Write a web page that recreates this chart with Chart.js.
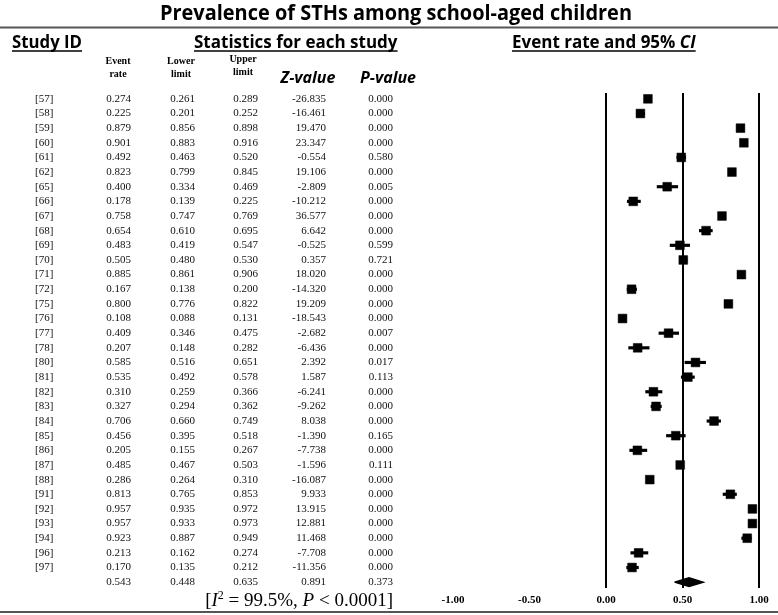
<!DOCTYPE html>
<html>
<head>
<meta charset="utf-8">
<script src="https://cdn.jsdelivr.net/npm/chart.js@4.4.1/dist/chart.umd.min.js"></script>
<style>
  html, body { margin: 0; padding: 0; background: #fff; }
  canvas { display: block; }
</style>
</head>
<body>
<canvas id="forest" width="778" height="615"></canvas>
<script>
// --- Data ---
const studyIds = ["[57]", "[58]", "[59]", "[60]", "[61]", "[62]", "[65]", "[66]", "[67]", "[68]", "[69]",
  "[70]", "[71]", "[72]", "[75]", "[76]", "[77]", "[78]", "[80]", "[81]", "[82]", "[83]", "[84]", "[85]",
  "[86]", "[87]", "[88]", "[91]", "[92]", "[93]", "[94]", "[96]", "[97]"];
const eventRate = [0.274, 0.225, 0.879, 0.901, 0.492, 0.823, 0.400, 0.178, 0.758, 0.654, 0.483,
  0.505, 0.885, 0.167, 0.800, 0.108, 0.409, 0.207, 0.585, 0.535, 0.310, 0.327, 0.706, 0.456,
  0.205, 0.485, 0.286, 0.813, 0.957, 0.957, 0.923, 0.213, 0.170];
const lowerLimit = [0.261, 0.201, 0.856, 0.883, 0.463, 0.799, 0.334, 0.139, 0.747, 0.610, 0.419,
  0.480, 0.861, 0.138, 0.776, 0.088, 0.346, 0.148, 0.516, 0.492, 0.259, 0.294, 0.660, 0.395,
  0.155, 0.467, 0.264, 0.765, 0.935, 0.933, 0.887, 0.162, 0.135];
const upperLimit = [0.289, 0.252, 0.898, 0.916, 0.520, 0.845, 0.469, 0.225, 0.769, 0.695, 0.547,
  0.530, 0.906, 0.200, 0.822, 0.131, 0.475, 0.282, 0.651, 0.578, 0.366, 0.362, 0.749, 0.518,
  0.267, 0.503, 0.310, 0.853, 0.972, 0.973, 0.949, 0.274, 0.212];
const zValue = ["-26.835", "-16.461", "19.470", "23.347", "-0.554", "19.106", "-2.809", "-10.212",
  "36.577", "6.642", "-0.525", "0.357", "18.020", "-14.320", "19.209", "-18.543", "-2.682", "-6.436",
  "2.392", "1.587", "-6.241", "-9.262", "8.038", "-1.390", "-7.738", "-1.596", "-16.087", "9.933",
  "13.915", "12.881", "11.468", "-7.708", "-11.356"];
const pValue = ["0.000", "0.000", "0.000", "0.000", "0.580", "0.000", "0.005", "0.000", "0.000",
  "0.000", "0.599", "0.721", "0.000", "0.000", "0.000", "0.000", "0.007", "0.000", "0.017", "0.113",
  "0.000", "0.000", "0.000", "0.165", "0.000", "0.111", "0.000", "0.000", "0.000", "0.000", "0.000",
  "0.000", "0.000"];

// pooled estimate
const pooled = { rate: 0.543, lower: 0.448, upper: 0.635, z: "0.891", p: "0.373" };
const xTicks = [-1, -0.5, 0, 0.5, 1];
const refLines = [0, 0.5, 1];

const summaryRow = studyIds.length;

// --- helpers ---
function drawRuns(ctx, runs, x, y, targetWidth, align) {
  // runs: [{text, font}] drawn in sequence, squeezed to targetWidth
  let total = 0;
  runs.forEach((r) => { ctx.font = r.font; r.w = ctx.measureText(r.text).width; total += r.w; });
  const s = targetWidth ? Math.min(1, targetWidth / total) : 1;
  const w = total * s;
  let x0 = x;
  if (align === "center") x0 = x - w / 2;
  if (align === "right") x0 = x - w;
  ctx.save();
  ctx.translate(x0, y);
  ctx.scale(s, 1);
  let cx = 0;
  runs.forEach((r) => {
    ctx.font = r.font;
    ctx.fillText(r.text, cx + (r.dx || 0), r.dy || 0);
    cx += r.w;
  });
  ctx.restore();
  return { x0, w };
}

function underlined(ctx, runs, x, y, width) {
  const box = drawRuns(ctx, runs, x, y, width, "left");
  ctx.beginPath();
  ctx.lineWidth = 1.6;
  ctx.moveTo(box.x0, y + 3);
  ctx.lineTo(box.x0 + box.w, y + 3);
  ctx.stroke();
}

const tablePlugin = {
  id: "tablePlugin",
  afterDraw(chart) {
    const ctx = chart.ctx;
    const yScale = chart.scales.y;
    ctx.save();
    ctx.fillStyle = "#000";
    ctx.strokeStyle = "#000";
    ctx.textBaseline = "alphabetic";

    // title + rules
    drawRuns(ctx, [{ text: "Prevalence of STHs among school-aged children", font: "bold 21px 'Open Sans'" }],
      396, 20, 472, "center");
    ctx.strokeStyle = "#555";
    ctx.lineWidth = 2;
    ctx.beginPath(); ctx.moveTo(0, 27.5); ctx.lineTo(778, 27.5); ctx.stroke();
    ctx.beginPath(); ctx.moveTo(0, 612); ctx.lineTo(778, 612); ctx.stroke();
    ctx.strokeStyle = "#000";

    // section headers
    const hFont = "bold 17px 'Open Sans'";
    underlined(ctx, [{ text: "Study ID", font: hFont }], 12, 48, 70);
    underlined(ctx, [{ text: "Statistics for each study", font: hFont }], 194, 48, 216);
    underlined(ctx, [{ text: "Event rate and 95% ", font: hFont }, { text: "CI", font: "italic " + hFont }], 512, 48, 198);

    // column headers
    const sFont = "bold 10px 'Liberation Serif'";
    ctx.textAlign = "center";
    ctx.font = sFont;
    [["Event", "rate", 118, 64], ["Lower", "limit", 181, 64], ["Upper", "limit", 243, 62]].forEach(([a, b, x, y]) => {
      ctx.fillText(a, x, y);
      ctx.fillText(b, x, y + 13);
    });
    ctx.textAlign = "left";
    drawRuns(ctx, [{ text: "Z-value", font: "italic bold 16px 'Open Sans'" }], 308, 83, 68, "center");
    drawRuns(ctx, [{ text: "P-value", font: "italic bold 16px 'Open Sans'" }], 388, 83, 66, "center");

    // table rows
    ctx.font = "11px 'Liberation Serif'";
    ctx.fillStyle = "#111";
    ctx.textBaseline = "middle";
    const cols = [131, 195, 258, 326, 393];
    const row = (vals, y) => {
      ctx.textAlign = "right";
      vals.forEach((v, k) => ctx.fillText(v, cols[k], y));
    };
    studyIds.forEach((id, i) => {
      const y = yScale.getPixelForValue(i);
      ctx.textAlign = "left";
      ctx.fillText(id, 35, y);
      row([eventRate[i].toFixed(3), lowerLimit[i].toFixed(3), upperLimit[i].toFixed(3), zValue[i], pValue[i]], y);
    });
    row([pooled.rate.toFixed(3), pooled.lower.toFixed(3), pooled.upper.toFixed(3), pooled.z, pooled.p],
      yScale.getPixelForValue(summaryRow));

    // heterogeneity note
    ctx.textBaseline = "alphabetic";
    ctx.textAlign = "left";
    ctx.fillStyle = "#000";
    const f = "19px 'Liberation Serif'";
    const fi = "italic 19px 'Liberation Serif'";
    drawRuns(ctx, [
      { text: "[", font: f }, { text: "I", font: fi }, { text: "2", font: "12px 'Liberation Serif'", dy: -7 },
      { text: " = 99.5%, ", font: f }, { text: "P", font: fi }, { text: " < 0.0001]", font: f }
    ], 393, 606, 196, "right");
    ctx.restore();
  }
};

const ciData = studyIds.map((id, i) => ({ x: [lowerLimit[i], upperLimit[i]], y: i }));
const pointData = studyIds.map((id, i) => ({ x: eventRate[i], y: i }));
const diamond = [
  { x: pooled.lower, y: summaryRow },
  { x: pooled.rate, y: summaryRow - 0.3 },
  { x: pooled.upper, y: summaryRow },
  { x: pooled.rate, y: summaryRow + 0.3 },
  { x: pooled.lower, y: summaryRow }
];

new Chart(document.getElementById("forest"), {
  type: "bar",
  data: {
    datasets: [
      {
        type: "bar",
        indexAxis: "y",
        data: ciData,
        backgroundColor: "#000",
        barThickness: 2.5,
        borderSkipped: false
      },
      {
        type: "line",
        data: pointData,
        showLine: false,
        pointStyle: "rect",
        pointRadius: 6.2,
        pointBackgroundColor: "#000",
        pointBorderColor: "#000",
        pointBorderWidth: 0.5
      },
      {
        type: "line",
        data: diamond,
        borderColor: "#000",
        borderWidth: 1.5,
        backgroundColor: "#000",
        fill: "shape",
        pointRadius: 0,
        tension: 0
      }
    ]
  },
  options: {
    responsive: false,
    animation: false,
    devicePixelRatio: 1,
    indexAxis: "y",
    layout: { padding: { left: 453, right: 19, top: 93, bottom: 0 } },
    plugins: { legend: { display: false }, tooltip: { enabled: false } },
    scales: {
      x: {
        type: "linear",
        position: "bottom",
        min: -1,
        max: 1,
        offset: false,
        afterFit(scale) { scale.height = 27; },
        afterBuildTicks(scale) { scale.ticks = xTicks.map((v) => ({ value: v })); },
        border: { display: false },
        grid: {
          drawTicks: false,
          lineWidth: 2,
          color: (c) => (c.tick && refLines.includes(c.tick.value) ? "#000" : "rgba(0,0,0,0)")
        },
        ticks: {
          padding: 6,
          color: "#000",
          font: { family: "'Liberation Serif'", size: 11, weight: "bold" },
          callback: (v) => Number(v).toFixed(2)
        }
      },
      y: {
        type: "linear",
        display: false,
        reverse: true,
        offset: false,
        min: -0.4,
        max: summaryRow + 0.4
      }
    }
  },
  plugins: [tablePlugin]
});
</script>
</body>
</html>
